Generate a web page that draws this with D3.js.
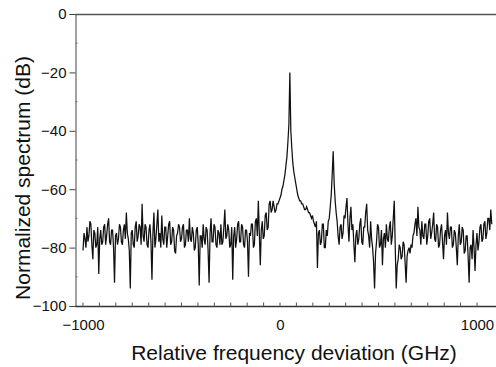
<!DOCTYPE html>
<html>
<head>
<meta charset="utf-8">
<script src="https://cdn.jsdelivr.net/npm/d3@7"></script>
<style>
  html,body{margin:0;padding:0;background:#fff}
  svg{display:block}
  text{font-family:"Liberation Sans",Arial,sans-serif;fill:#111}
</style>
</head>
<body>
<svg id="chart" width="496" height="367"></svg>
<script>
// sampling grid of the trace (GHz)
const freqStart = -1000;
const freqStep = 5;

// spectrum in dB
const specLeft = [ // -1000 .. -5
  -81, -75, -77, -80, -73, -78, -76, -71, -72, -79, -84, -74, -75, -80, -79, -73, -89, -77, -74, -79,
  -78, -73, -72, -79, -76, -72, -70, -78, -79, -74, -74, -80, -92, -76, -75, -79, -77, -72, -73, -78,
  -79, -74, -72, -77, -68, -75, -77, -81, -94, -75, -74, -79, -80, -73, -71, -78, -76, -72, -73, -79,
  -65, -76, -78, -72, -73, -79, -80, -74, -72, -78, -91, -75, -68, -80, -77, -72, -67, -78, -75, -80,
  -69, -77, -79, -73, -73, -80, -76, -72, -71, -79, -78, -73, -74, -81, -82, -76, -75, -72, -73, -78,
  -77, -73, -72, -80, -79, -74, -74, -78, -70, -77, -78, -73, -75, -81, -80, -74, -73, -79, -93, -76,
  -76, -80, -72, -77, -79, -73, -74, -81, -92, -75, -70, -78, -78, -72, -73, -79, -80, -74, -75, -79,
  -72, -79, -78, -73, -67, -77, -76, -72, -74, -80, -79, -73, -91, -76, -73, -80, -77, -72, -71, -78,
  -78, -72, -73, -79, -80, -74, -74, -78, -90, -75, -76, -72, -72, -80, -79, -71, -70, -76, -64, -75,
  -86, -74, -71, -77, -76, -69, -68, -74, -73, -65, -64, -68, -67, -64, -66, -68, -67, -65, -65, -64
];
const specPeak = [ // 0 .. 185
  -63, -62, -60, -59, -57, -55, -52, -49, -44, -38, -20, -40, -46, -51, -54, -56, -58, -60, -62, -63,
  -64, -64, -65, -65, -66, -67, -67, -66, -67, -68, -68, -69, -70, -69, -71, -72, -73, -71
];
const specRight = [ // 190 .. 1075
  -87, -75, -74, -79, -78, -72, -72, -80, -80, -74, -76, -71, -70, -66, -62, -55, -47, -58, -64, -68,
  -71, -76, -79, -73, -72, -77, -75, -69, -70, -66, -63, -72, -78, -70, -66, -74, -72, -79, -85, -76,
  -74, -79, -77, -72, -70, -78, -79, -73, -73, -68, -65, -74, -76, -80, -71, -77, -80, -85, -94, -82,
  -78, -72, -73, -80, -79, -74, -86, -77, -75, -80, -72, -77, -78, -73, -71, -79, -76, -70, -64, -80,
  -94, -86, -84, -79, -80, -84, -83, -78, -79, -85, -92, -83, -81, -80, -82, -79, -80, -76, -75, -72,
  -70, -76, -66, -73, -74, -79, -71, -76, -77, -72, -72, -79, -76, -71, -70, -77, -75, -72, -68, -77,
  -78, -72, -73, -80, -79, -74, -72, -78, -84, -76, -74, -79, -68, -75, -77, -73, -73, -80, -79, -74,
  -75, -80, -86, -76, -72, -79, -78, -73, -74, -82, -81, -76, -76, -83, -92, -80, -79, -84, -74, -80,
  -88, -79, -75, -81, -78, -73, -72, -78, -77, -72, -71, -77, -75, -70, -70, -74, -67, -72
];

const yTicks = [0, -20, -40, -60, -80, -100];
const yMinor = [-10, -30, -50, -70, -90];
const xTicks = [-1000, 0, 1000];

const spectrum = specLeft.concat(specPeak, specRight)
  .map((v, i) => ({ f: freqStart + i * freqStep, v }));

const svg = d3.select('#chart');
const W = 496;

const x = d3.scaleLinear().domain([-1000, 1000]).range([83, 477]);
const y = d3.scaleLinear().domain([-100, 0]).range([306, 14]);
const xLeft = 75.5;

// top frame
svg.append('line').attr('x1', xLeft).attr('x2', W).attr('y1', y(0) + 0.5).attr('y2', y(0) + 0.5)
  .attr('stroke', '#555').attr('stroke-width', 1.3);

// y axis
const gy = svg.append('g').attr('transform', `translate(${xLeft},0)`)
  .call(d3.axisLeft(y).tickValues(yTicks).tickSize(6).tickPadding(3).tickFormat(d3.format('d')));
gy.select('.domain').attr('stroke', '#444');
gy.selectAll('.tick line').attr('stroke', '#444');
gy.selectAll('text').style('font-size', '15px').attr('fill', '#111');
gy.selectAll('.minor').data(yMinor).enter().append('line')
  .attr('x1', 0).attr('x2', 2).attr('y1', d => y(d)).attr('y2', d => y(d))
  .attr('stroke', '#777');

// x axis
const gx = svg.append('g').attr('transform', `translate(0,${y(-100) + 0.5})`)
  .call(d3.axisBottom(x).tickValues(xTicks).tickSize(0).tickPadding(13).tickFormat(d3.format('d')));
gx.select('.domain').attr('d', `M${xLeft},0H${W}`).attr('stroke', '#333').attr('stroke-width', 1.3);
gx.selectAll('text').style('font-size', '15px').attr('fill', '#111');
gx.selectAll('.minor').data(d3.range(0, 25).map(k => -1000 + k * 1000 / 12)).enter().append('line')
  .attr('x1', d => x(d)).attr('x2', d => x(d)).attr('y1', 0).attr('y2', -4)
  .attr('stroke', '#555');

// trace
svg.append('path').datum(spectrum)
  .attr('fill', 'none').attr('stroke', '#111').attr('stroke-width', 1.25)
  .attr('d', d3.line().x(d => x(d.f)).y(d => y(d.v)));

// titles
svg.append('text').attr('x', 294).attr('y', 360).attr('text-anchor', 'middle')
  .style('font-size', '21px').text('Relative frequency deviation (GHz)');
svg.append('text').attr('transform', 'rotate(-90)').attr('x', -178).attr('y', 30)
  .attr('text-anchor', 'middle').style('font-size', '21px').text('Normalized spectrum (dB)');
</script>
</body>
</html>
